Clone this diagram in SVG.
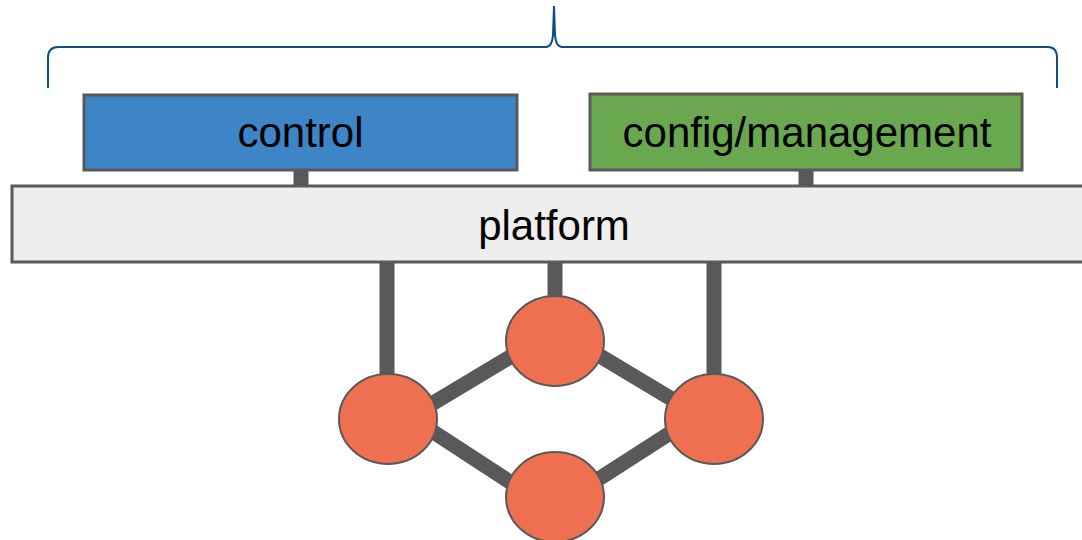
<svg xmlns="http://www.w3.org/2000/svg" width="1082" height="540" viewBox="0 0 1082 540">
  <style>
    .box { stroke: #595959; stroke-width: 3; }
    .label { font-family: "Liberation Sans", Arial, sans-serif; font-size: 42px; fill: #000; text-anchor: middle; }
    .link { stroke: #595959; stroke-width: 15; fill: none; }
    .dev { fill: #ee7051; stroke: #595959; stroke-width: 2; }
    .brace { fill: none; stroke: #0f4c81; stroke-width: 2; }
  </style>

  <!-- curly brace spanning the two upper boxes -->
  <path class="brace" d="M48,88 L48,58 Q48,47 58,47 L546,47 Q552,47 553,35 L554,6 L555,35 Q556,47 562,47 L1048,47 Q1057,47 1057,58 L1057,88"/>

  <!-- connectors -->
  <g id="connectors">
    <line class="link" x1="301" y1="168" x2="301" y2="188"/>
    <line class="link" x1="806" y1="168" x2="806" y2="188"/>
    <line class="link" x1="387" y1="261" x2="387" y2="380"/>
    <line class="link" x1="555" y1="261" x2="555" y2="300"/>
    <line class="link" x1="714" y1="261" x2="714" y2="380"/>
    <line class="link" x1="415" y1="414" x2="530" y2="345"/>
    <line class="link" x1="580" y1="344" x2="695" y2="413"/>
    <line class="link" x1="415" y1="420" x2="530" y2="495"/>
    <line class="link" x1="580" y1="491" x2="695" y2="417"/>
  </g>

  <g id="control">
    <rect class="box" x="84" y="95" width="433" height="75" fill="#3d85c6"/>
    <text class="label" x="300.5" y="147">control</text>
  </g>

  <g id="config-management">
    <rect class="box" x="590" y="94" width="432" height="76" fill="#6aa84f"/>
    <text class="label" x="807" y="147">config/management</text>
  </g>

  <g id="platform">
    <rect class="box" x="12" y="186" width="1080" height="76" fill="#eeeeee"/>
    <text class="label" x="554" y="240">platform</text>
  </g>

  <g id="node-left"><ellipse class="dev" cx="388" cy="419" rx="49" ry="45"/></g>
  <g id="node-top"><ellipse class="dev" cx="555" cy="341" rx="49" ry="45"/></g>
  <g id="node-right"><ellipse class="dev" cx="714" cy="419" rx="49" ry="45"/></g>
  <g id="node-bottom"><ellipse class="dev" cx="555" cy="497" rx="49" ry="45"/></g>
</svg>
